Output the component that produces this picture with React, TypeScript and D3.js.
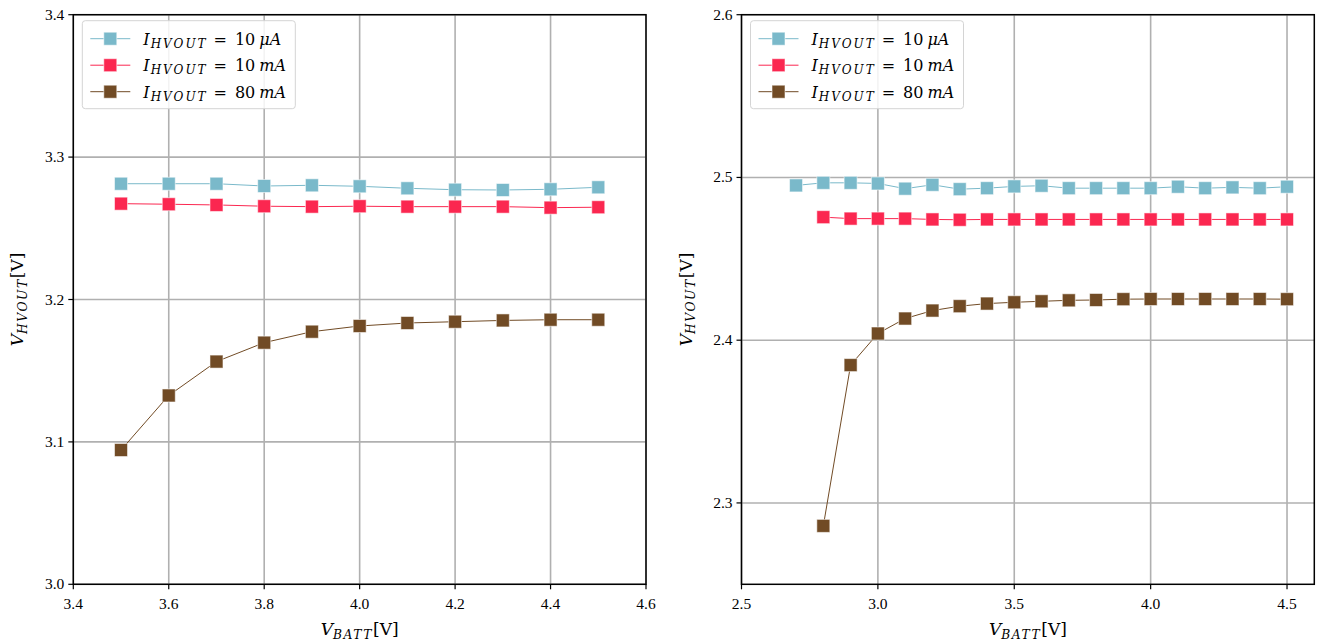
import React from "react";
import * as d3 from "d3";

// ---------- data ----------
const leftX = [3.5, 3.6, 3.7, 3.8, 3.9, 4.0, 4.1, 4.2, 4.3, 4.4, 4.5];
const left10uA = [3.2813, 3.2813, 3.2813, 3.2797, 3.2802, 3.2795, 3.2781, 3.2771, 3.2769, 3.2774, 3.2788];
const left10mA = [3.2673, 3.2669, 3.2664, 3.2655, 3.2652, 3.2655, 3.2652, 3.2652, 3.2652, 3.2645, 3.2648];
const left80mA = [3.0943, 3.1326, 3.1564, 3.1697, 3.1774, 3.1814, 3.1835, 3.1844, 3.1853, 3.1858, 3.1858];

const rightX10uA = [2.7, 2.8, 2.9, 3.0, 3.1, 3.2, 3.3, 3.4, 3.5, 3.6, 3.7, 3.8, 3.9, 4.0, 4.1, 4.2, 4.3, 4.4, 4.5];
const rightX = [2.8, 2.9, 3.0, 3.1, 3.2, 3.3, 3.4, 3.5, 3.6, 3.7, 3.8, 3.9, 4.0, 4.1, 4.2, 4.3, 4.4, 4.5];
const right10uA = [2.4951, 2.4967, 2.4967, 2.4963, 2.4931, 2.4955, 2.4928, 2.4934, 2.4945, 2.4949, 2.4934, 2.4934, 2.4934, 2.4934, 2.4943, 2.4934, 2.4939, 2.4934, 2.4943];
const right10mA = [2.4756, 2.4747, 2.4747, 2.4747, 2.4742, 2.474, 2.4742, 2.4742, 2.4742, 2.4742, 2.4742, 2.4742, 2.4742, 2.4742, 2.4742, 2.4742, 2.4742, 2.4742];
const right80mA = [2.2859, 2.3847, 2.4041, 2.4133, 2.4182, 2.4209, 2.4225, 2.4233, 2.4239, 2.4245, 2.4247, 2.4252, 2.4253, 2.4253, 2.4253, 2.4253, 2.4253, 2.4252];

const leftXTicks = [3.4, 3.6, 3.8, 4.0, 4.2, 4.4, 4.6];
const leftYTicks = [3.0, 3.1, 3.2, 3.3, 3.4];
const rightXTicks = [2.5, 3.0, 3.5, 4.0, 4.5];
const rightYTicks = [2.3, 2.4, 2.5, 2.6];

const seriesNames = [
  { unit: "μA", num: "10" },
  { unit: "mA", num: "10" },
  { unit: "mA", num: "80" },
];
const colors = ["#7ab9ca", "#fb2750", "#714b25"];

const FONT = "'Liberation Serif', 'DejaVu Serif', serif";
const MFONT = "'DejaVu Serif', serif";

type Series = { x: number[]; y: number[] };

function MathVar({ x, y, base, sub, suffix, anchor = "middle", rotate = 0, size = 16 }: any) {
  return (
    <text
      x={x}
      y={y}
      textAnchor={anchor}
      fontFamily={MFONT}
      fontSize={size}
      fill="#000"
      transform={rotate ? `rotate(${rotate},${x},${y})` : undefined}
    >
      <tspan fontStyle="italic">{base}</tspan>
      <tspan fontStyle="italic" fontSize={size * 0.72} dy={size * 0.22} letterSpacing={1.6}>{sub}</tspan>
      <tspan dy={-size * 0.22}>{suffix}</tspan>
    </text>
  );
}

function Panel({
  left, top, width, height, xDomain, yDomain, xTicks, yTicks, series,
}: {
  left: number; top: number; width: number; height: number;
  xDomain: [number, number]; yDomain: [number, number];
  xTicks: number[]; yTicks: number[]; series: Series[];
}) {
  const xs = d3.scaleLinear().domain(xDomain).range([left, left + width]);
  const ys = d3.scaleLinear().domain(yDomain).range([top + height, top]);
  const fmt = d3.format(".1f");
  const line = d3.line<[number, number]>().x((d) => xs(d[0])).y((d) => ys(d[1]));
  const ms = 13;
  const lx = left + 9;
  const ly = top + 6;
  return (
    <g>
      <defs>
        <clipPath id={`clip${left}`}>
          <rect x={left} y={top} width={width} height={height} />
        </clipPath>
      </defs>
      {/* grid */}
      {xTicks.map((t) => (
        <line key={"gx" + t} x1={xs(t)} x2={xs(t)} y1={top} y2={top + height} stroke="#b0b0b0" strokeWidth={1.6} />
      ))}
      {yTicks.map((t) => (
        <line key={"gy" + t} x1={left} x2={left + width} y1={ys(t)} y2={ys(t)} stroke="#b0b0b0" strokeWidth={1.6} />
      ))}
      {/* series */}
      <g clipPath={`url(#clip${left})`}>
        {series.map((s, i) => {
          const pts = s.x.map((xv, j) => [xv, s.y[j]] as [number, number]);
          return (
            <g key={"s" + i}>
              <path d={line(pts) || ""} fill="none" stroke={colors[i]} strokeWidth={1} />
              {pts.map((p, j) => (
                <rect
                  key={j}
                  x={xs(p[0]) - ms / 2}
                  y={ys(p[1]) - ms / 2}
                  width={ms}
                  height={ms}
                  fill={colors[i]}
                  stroke="#ffffff"
                  strokeOpacity={0.55}
                  strokeWidth={1}
                />
              ))}
            </g>
          );
        })}
      </g>
      {/* spines */}
      <rect x={left} y={top} width={width} height={height} fill="none" stroke="#000" strokeWidth={1.5} />
      {/* x ticks */}
      {xTicks.map((t) => (
        <g key={"xt" + t}>
          <line x1={xs(t)} x2={xs(t)} y1={top + height} y2={top + height + 5} stroke="#000" strokeWidth={1.2} />
          <text x={xs(t)} y={top + height + 25} textAnchor="middle" fontFamily={FONT} fontSize={15.5} fill="#000">
            {fmt(t)}
          </text>
        </g>
      ))}
      {/* y ticks */}
      {yTicks.map((t) => (
        <g key={"yt" + t}>
          <line x1={left - 5} x2={left} y1={ys(t)} y2={ys(t)} stroke="#000" strokeWidth={1.2} />
          <text x={left - 9} y={ys(t) + 5} textAnchor="end" fontFamily={FONT} fontSize={15.5} fill="#000">
            {fmt(t)}
          </text>
        </g>
      ))}
      {/* axis labels */}
      <MathVar x={left + width / 2} y={top + height + 51} base="V" sub="BATT" suffix="[V]" size={17} />
      <MathVar x={left - 50} y={top + height / 2} base="V" sub="HVOUT" suffix="[V]" rotate={-90} size={17} />
      {/* legend */}
      <rect x={lx} y={ly} width={213} height={88} rx={3} fill="#fff" fillOpacity={0.85} stroke="#d4d4d4" strokeWidth={1} />
      {seriesNames.map((s, i) => {
        const cy = ly + 18 + i * 26.5;
        return (
          <g key={"lg" + i}>
            <line x1={lx + 8} x2={lx + 48} y1={cy} y2={cy} stroke={colors[i]} strokeWidth={1} />
            <rect x={lx + 28 - ms / 2} y={cy - ms / 2} width={ms} height={ms} fill={colors[i]} stroke="#fff" strokeOpacity={0.55} />
            <text x={lx + 61} y={cy + 6} fontFamily={MFONT} fontSize={16} fill="#000">
              <tspan fontStyle="italic">I</tspan>
              <tspan fontStyle="italic" fontSize={12} dy={3} dx={1} letterSpacing={2}>HVOUT</tspan>
              <tspan dy={-3} dx={6}>=</tspan>
              <tspan dx={8}>{s.num}</tspan>
              <tspan dx={4} fontStyle="italic">{s.unit}</tspan>
            </text>
          </g>
        );
      })}
    </g>
  );
}

export default function App() {
  return (
    <svg width={1317} height={644} style={{ position: "absolute", left: 0, top: 0, background: "#fff" }}>
      <rect x={0} y={0} width={1317} height={644} fill="#fff" />
      <Panel
        left={73.3}
        top={14.7}
        width={572.7}
        height={569.6}
        xDomain={[3.4, 4.6]}
        yDomain={[3.0, 3.4]}
        xTicks={leftXTicks}
        yTicks={leftYTicks}
        series={[
          { x: leftX, y: left10uA },
          { x: leftX, y: left10mA },
          { x: leftX, y: left80mA },
        ]}
      />
      <Panel
        left={741.5}
        top={14.7}
        width={572.8}
        height={569.6}
        xDomain={[2.5, 4.6]}
        yDomain={[2.25, 2.6]}
        xTicks={rightXTicks}
        yTicks={rightYTicks}
        series={[
          { x: rightX10uA, y: right10uA },
          { x: rightX, y: right10mA },
          { x: rightX, y: right80mA },
        ]}
      />
    </svg>
  );
}
